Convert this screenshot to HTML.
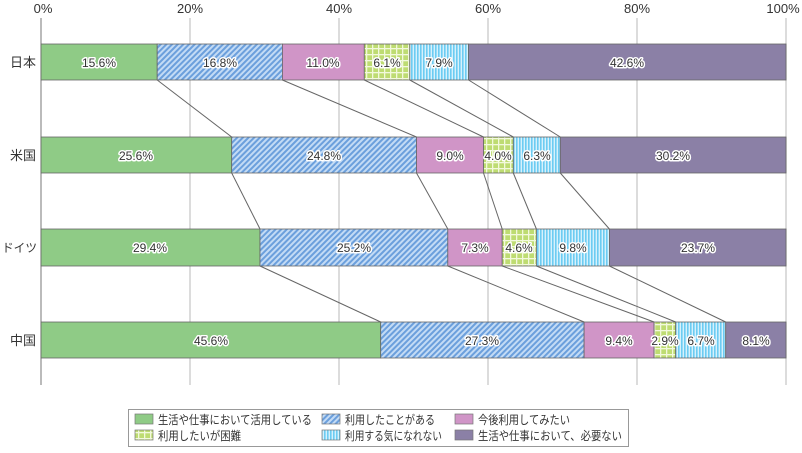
<!DOCTYPE html><html><head><meta charset="utf-8"><style>body{margin:0;background:#fff}svg{display:block;font-family:"Liberation Sans","Noto Sans CJK JP",sans-serif}
.v{font-size:12px;fill:#333;text-anchor:middle;stroke:#fff;stroke-width:3px;paint-order:stroke;stroke-linejoin:round}
.t{font-size:13px;fill:#333;text-anchor:middle}.c{font-size:13px;fill:#333;text-anchor:end}.l{font-size:12px;fill:#333}</style></head><body>
<svg width="802" height="453" viewBox="0 0 802 453">
<defs>
<pattern id="pb" width="4" height="4" patternUnits="userSpaceOnUse" patternTransform="rotate(45)"><rect width="4" height="4" fill="#c3dbf5"/><rect width="2" height="4" fill="#6b9fdc"/></pattern>
<pattern id="pg" width="6" height="6" patternUnits="userSpaceOnUse"><rect width="6" height="6" fill="#bedc72"/><rect x="0" y="0" width="1.3" height="6" fill="#f2f9dc"/><rect x="0" y="0" width="6" height="1.3" fill="#f2f9dc"/></pattern>
<pattern id="pc" width="3" height="3" patternUnits="userSpaceOnUse"><rect width="3" height="3" fill="#d6f1fc"/><rect width="1.6" height="3" fill="#6cccf2"/></pattern>
</defs>
<g stroke="#d0d0d0" stroke-width="1.5"><line x1="190" y1="18" x2="190" y2="385"/><line x1="339" y1="18" x2="339" y2="385"/><line x1="488" y1="18" x2="488" y2="385"/><line x1="637" y1="18" x2="637" y2="385"/><line x1="786" y1="18" x2="786" y2="385"/></g>
<line x1="41" y1="18" x2="41" y2="385" stroke="#777" stroke-width="1"/>
<g class="t"><text x="43" y="13">0%</text><text x="190" y="13">20%</text><text x="339" y="13">40%</text><text x="488" y="13">60%</text><text x="637" y="13">80%</text><text x="783" y="13">100%</text></g>
<g stroke="#666" stroke-width="1">
<line x1="157.2" y1="80" x2="231.7" y2="137"/><line x1="282.4" y1="80" x2="416.5" y2="137"/><line x1="364.3" y1="80" x2="483.5" y2="137"/><line x1="409.8" y1="80" x2="513.3" y2="137"/><line x1="468.6" y1="80" x2="560.3" y2="137"/>
<line x1="231.7" y1="173" x2="260" y2="229"/><line x1="416.5" y1="173" x2="447.8" y2="229"/><line x1="483.5" y1="173" x2="502.2" y2="229"/><line x1="513.3" y1="173" x2="536.4" y2="229"/><line x1="560.3" y1="173" x2="609.4" y2="229"/>
<line x1="260" y1="266" x2="380.7" y2="322"/><line x1="447.8" y1="266" x2="584.1" y2="322"/><line x1="502.2" y1="266" x2="654.1" y2="322"/><line x1="536.4" y1="266" x2="675.7" y2="322"/><line x1="609.4" y1="266" x2="725.7" y2="322"/>
</g>
<g stroke="#666" stroke-width="0.8">
<rect x="41" y="44" width="116.2" height="36" fill="#8fcb86"/><rect x="157.2" y="44" width="125.2" height="36" fill="url(#pb)"/><rect x="282.4" y="44" width="81.9" height="36" fill="#d095c7"/><rect x="364.3" y="44" width="45.5" height="36" fill="url(#pg)"/><rect x="409.8" y="44" width="58.8" height="36" fill="url(#pc)"/><rect x="468.6" y="44" width="317.4" height="36" fill="#8b80a6"/>
<rect x="41" y="137" width="190.7" height="36" fill="#8fcb86"/><rect x="231.7" y="137" width="184.8" height="36" fill="url(#pb)"/><rect x="416.5" y="137" width="67" height="36" fill="#d095c7"/><rect x="483.5" y="137" width="29.8" height="36" fill="url(#pg)"/><rect x="513.3" y="137" width="47" height="36" fill="url(#pc)"/><rect x="560.3" y="137" width="225.7" height="36" fill="#8b80a6"/>
<rect x="41" y="229" width="219" height="37" fill="#8fcb86"/><rect x="260" y="229" width="187.8" height="37" fill="url(#pb)"/><rect x="447.8" y="229" width="54.4" height="37" fill="#d095c7"/><rect x="502.2" y="229" width="34.2" height="37" fill="url(#pg)"/><rect x="536.4" y="229" width="73" height="37" fill="url(#pc)"/><rect x="609.4" y="229" width="176.6" height="37" fill="#8b80a6"/>
<rect x="41" y="322" width="339.7" height="36" fill="#8fcb86"/><rect x="380.7" y="322" width="203.4" height="36" fill="url(#pb)"/><rect x="584.1" y="322" width="70" height="36" fill="#d095c7"/><rect x="654.1" y="322" width="21.6" height="36" fill="url(#pg)"/><rect x="675.7" y="322" width="50" height="36" fill="url(#pc)"/><rect x="725.7" y="322" width="60.3" height="36" fill="#8b80a6"/>
</g>
<g class="v">
<text x="99" y="67">15.6%</text><text x="220" y="67">16.8%</text><text x="323" y="67">11.0%</text><text x="387" y="67">6.1%</text><text x="439" y="67">7.9%</text><text x="627" y="67">42.6%</text>
<text x="136" y="160">25.6%</text><text x="324" y="160">24.8%</text><text x="450" y="160">9.0%</text><text x="498" y="160">4.0%</text><text x="537" y="160">6.3%</text><text x="673" y="160">30.2%</text>
<text x="150" y="252">29.4%</text><text x="354" y="252">25.2%</text><text x="475" y="252">7.3%</text><text x="519" y="252">4.6%</text><text x="573" y="252">9.8%</text><text x="698" y="252">23.7%</text>
<text x="211" y="345">45.6%</text><text x="482" y="345">27.3%</text><text x="619" y="345">9.4%</text><text x="665" y="345">2.9%</text><text x="701" y="345">6.7%</text><text x="756" y="345">8.1%</text>
</g>
<g class="c"><text x="36" y="67">日本</text><text x="36" y="160">米国</text><text x="37" y="252" font-size="12" textLength="35" lengthAdjust="spacingAndGlyphs">ドイツ</text><text x="36" y="345">中国</text></g>
<rect x="128.5" y="409.5" width="500" height="37" fill="#fff" stroke="#999"/>
<g stroke="#777" stroke-width="0.7">
<rect x="135" y="414" width="18" height="10" fill="#8fcb86"/><rect x="322" y="414" width="18" height="10" fill="url(#pb)"/><rect x="455" y="414" width="18" height="10" fill="#d095c7"/>
<rect x="135" y="430" width="18" height="10" fill="url(#pg)"/><rect x="322" y="430" width="18" height="10" fill="url(#pc)"/><rect x="455" y="430" width="18" height="10" fill="#8b80a6"/>
</g>
<g class="l"><text x="158" y="424" textLength="154" lengthAdjust="spacingAndGlyphs">生活や仕事において活用している</text><text x="345" y="424" textLength="90" lengthAdjust="spacingAndGlyphs">利用したことがある</text><text x="478" y="424" textLength="92" lengthAdjust="spacingAndGlyphs">今後利用してみたい</text>
<text x="158" y="440" textLength="83" lengthAdjust="spacingAndGlyphs">利用したいが困難</text><text x="345" y="440" textLength="97" lengthAdjust="spacingAndGlyphs">利用する気になれない</text><text x="478" y="440" textLength="144" lengthAdjust="spacingAndGlyphs">生活や仕事において、必要ない</text></g>
</svg></body></html>
